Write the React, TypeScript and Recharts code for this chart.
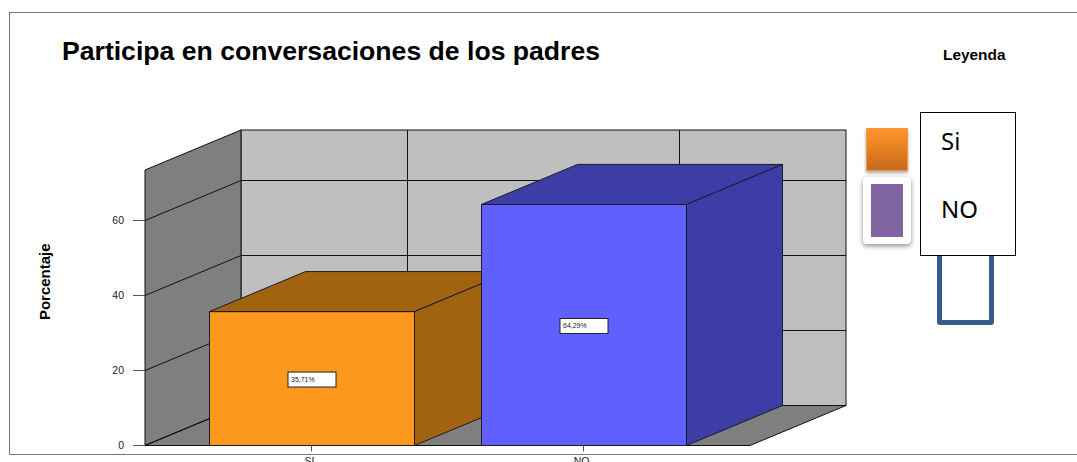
import React from "react";
import { BarChart, Bar, XAxis, YAxis, ReferenceArea, ReferenceLine, LabelList } from "recharts";

const categories = ["SI", "NO"];
const percentages = [35.71, 64.29];
const yTicks = [0, 20, 40, 60];
const yMax = 73.47;
const legendNames = ["Si", "NO"];
const chartTitle = "Participa en conversaciones de los padres";

const frontColors = ["#FB981D", "#5F60FF"];
const topSideColors = ["#A26310", "#3C3EA5"];

const DX = 96;
const DY = -40;
const XPAD = 30.5;
const LINE = "#111111";
const FONT = "'Liberation Sans', Arial, sans-serif";

const data = categories.map((name, i) => ({ name, value: percentages[i] }));

const Walls = (p: any) => {
  const x = p.x - XPAD;
  const width = p.width + 2 * XPAD;
  const { y, height } = p;
  const b = y + height;
  const r = x + width;
  return (
    <g stroke={LINE} strokeWidth={1}>
      <rect x={x + DX} y={y + DY} width={width} height={height} fill="#BFBFBF" />
      <polygon points={`${x},${y} ${x + DX},${y + DY} ${x + DX},${b + DY} ${x},${b}`} fill="#7F7F7F" />
      <polygon points={`${x},${b} ${x + DX},${b + DY} ${r + DX},${b + DY} ${r},${b}`} fill="#7F7F7F" />
    </g>
  );
};

const GridH = (p: any) => (
  <g stroke={LINE} strokeWidth={1}>
    <line x1={p.x1} y1={p.y1} x2={p.x1 + DX} y2={p.y1 + DY} />
    <line x1={p.x1 + DX} y1={p.y1 + DY} x2={p.x2 + DX} y2={p.y1 + DY} />
  </g>
);

const GridV = (p: any) => (
  <line x1={p.x1 + DX} y1={p.y1 + DY} x2={p.x2 + DX} y2={p.y2 + DY} stroke={LINE} strokeWidth={1} />
);

const Box3D = (p: any) => {
  const { x, y, width, height, index } = p;
  const r = x + width;
  const b = y + height;
  return (
    <g stroke="#1a1a2a" strokeWidth={1} strokeLinejoin="round">
      <rect x={x} y={y} width={width} height={height} fill={frontColors[index]} />
      <polygon points={`${x},${y} ${x + DX},${y + DY} ${r + DX},${y + DY} ${r},${y}`} fill={topSideColors[index]} />
      <polygon points={`${r},${y} ${r + DX},${y + DY} ${r + DX},${b + DY} ${r},${b}`} fill={topSideColors[index]} />
    </g>
  );
};

const ValueBox = (p: any) => {
  const { x, y, width, height, value } = p;
  const cx = x + width / 2;
  const cy = y + height / 2 + 1;
  return (
    <g>
      <rect x={cx - 24} y={cy - 7.5} width={48} height={15} fill="#fff" stroke="#222" strokeWidth={1} />
      <text x={cx - 21} y={cy + 2.5} fontSize={7} fontFamily={FONT} fill="#222">
        {String(value).replace(".", ",")}%
      </text>
    </g>
  );
};

const abs = (s: React.CSSProperties): React.CSSProperties => ({ position: "absolute", boxSizing: "border-box", ...s });

export default function App() {
  return (
    <div style={abs({ left: 0, top: 0, width: 1077, height: 462, overflow: "hidden", background: "#fff", fontFamily: FONT })}>
      <div style={abs({ left: 9, top: 12, width: 1068, height: 443, borderTop: "1px solid #777", borderLeft: "1px solid #777", borderBottom: "1px solid #777" })} />
      <div style={abs({ left: 0, top: 0 })}>
        <BarChart
          width={1077}
          height={462}
          data={data}
          barSize={205}
          margin={{ top: 170, right: 327, bottom: 0, left: 85 }}
        >
          <XAxis
            dataKey="name"
            height={16.5}
            padding={{ left: XPAD, right: XPAD }}
            axisLine={false}
            tickSize={6}
            tickMargin={6}
            tickLine={{ stroke: "#555" }}
            tick={{ fontSize: 10.5, fill: "#222", fontFamily: FONT, dx: -2 }}
          />
          <YAxis
            width={60}
            domain={[0, yMax]}
            ticks={yTicks}
            axisLine={false}
            tickSize={12}
            tickMargin={9}
            tickLine={{ stroke: "#555" }}
            tick={{ fontSize: 10.5, fill: "#222", fontFamily: FONT }}
            label={{
              value: "Porcentaje",
              angle: -90,
              position: "insideLeft",
              dx: -45,
              dy: -26,
              style: { fontSize: 15, fontWeight: 700, fill: "#000", fontFamily: FONT, textAnchor: "middle" },
            }}
          />
          <ReferenceArea y1={0} y2={yMax} shape={Walls} zIndex={50} />
          {yTicks.map((v) => (
            <ReferenceLine key={v} y={v} shape={GridH} zIndex={60} />
          ))}
          {categories.map((c) => (
            <ReferenceLine key={c} x={c} shape={GridV} zIndex={60} />
          ))}
          <Bar dataKey="value" isAnimationActive={false} shape={Box3D}>
            <LabelList dataKey="value" content={ValueBox} />
          </Bar>
        </BarChart>
      </div>
      <div style={abs({ left: 62, top: 36, fontSize: 26.6, fontWeight: 700, color: "#000", whiteSpace: "nowrap", lineHeight: "30px" })}>{chartTitle}</div>
      <div style={abs({ left: 943, top: 47, fontSize: 15.4, fontWeight: 700, color: "#000", whiteSpace: "nowrap", lineHeight: "16px" })}>Leyenda</div>
      <div style={abs({ left: 937, top: 200, width: 57, height: 125, border: "5px solid #385D8A", borderRadius: 3 })} />
      <div style={abs({ left: 919.5, top: 111.5, width: 96, height: 144, border: "1px solid #000", background: "#fff" })} />
      <div style={abs({ left: 941, top: 125, fontFamily: "'Noto Sans'", fontSize: 24, lineHeight: "32px", color: "#000" })}>{legendNames[0]}</div>
      <div style={abs({ left: 941, top: 193, fontFamily: "'Noto Sans'", fontSize: 24, lineHeight: "32px", color: "#000" })}>{legendNames[1]}</div>
      <div style={abs({ left: 866, top: 128, width: 42, height: 43, background: "linear-gradient(#FF9429,#C86A1C)", border: "1px solid #F79646", boxShadow: "0 2px 3px rgba(0,0,0,.35)" })} />
      <div style={abs({ left: 863, top: 177, width: 48, height: 67, background: "#fff", borderRadius: 4, boxShadow: "0 2px 5px rgba(0,0,0,.45)" })} />
      <div style={abs({ left: 871, top: 184, width: 32, height: 53, background: "#8064A2" })} />
    </div>
  );
}
